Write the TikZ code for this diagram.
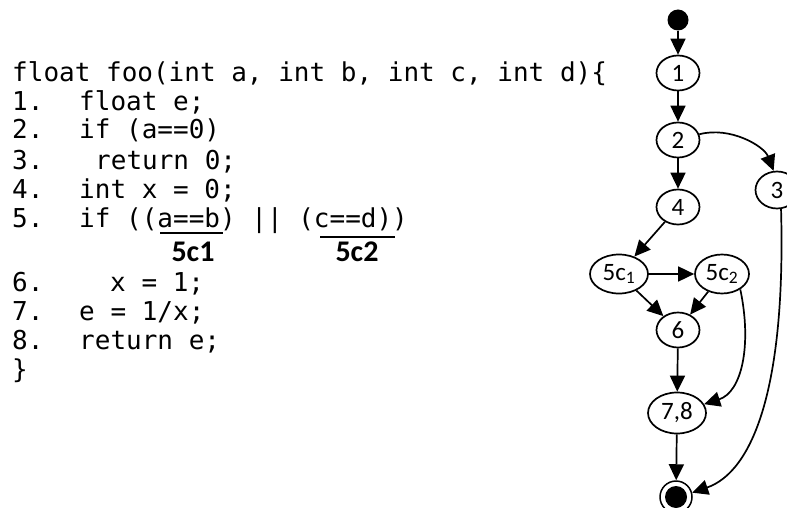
\documentclass[tikz,border=0pt]{standalone}
\usepackage{fontspec}
\setmainfont{Carlito}
\newfontfamily\codefont{DejaVu Sans Mono}
\usetikzlibrary{arrows.meta,shapes.geometric}
\begin{document}
\begin{tikzpicture}[x=1pt,y=-1pt,
  st/.style={ellipse,draw,line width=1.7pt,inner sep=0pt,minimum width=43pt,minimum height=35pt,font=\fontsize{25}{27}\selectfont},
  arr/.style={line width=1.7pt,-{Triangle[length=16pt,width=15pt]}},
  code/.style={anchor=base west,inner sep=0pt,font=\codefont\fontsize{26}{28}\selectfont},
  lbl/.style={anchor=base,inner sep=0pt,font=\bfseries\fontsize{30}{32}\selectfont},
  mark line/.style={line width=1.5pt}]
\clip (0,0) rectangle (787,508);
\fill[white] (0,0) rectangle (787,508);
% code
\node[code] (c0) at (12,82) {float foo(int a, int b, int c, int d)\{};
\node[code] (n1num) at (12,111) {1.};
\node[code] (n1code) at (79,111) {float e;};
\node[code] (n2num) at (12,139) {2.};
\node[code] (n2code) at (79,139) {if (a==0)};
\node[code] (n3num) at (12,169) {3.};
\node[code] (n3code) at (95,169) {return 0;};
\node[code] (n4num) at (12,198) {4.};
\node[code] (n4code) at (79,198) {int x = 0;};
\node[code] (n5num) at (12,227) {5.};
\node[code] (n5code) at (79,227) {if ((a==b) || (c==d))};
\draw[mark line] (160,233) -- (223,233);
\draw[mark line] (320,237) -- (395,237);
\node[lbl] (l5c1) at (193,261) {5c1};
\node[lbl] (l5c2) at (357,261) {5c2};
\node[code] (n6num) at (12,291) {6.};
\node[code] (n6code) at (110,291) {x = 1;};
\node[code] (n7num) at (12,320) {7.};
\node[code] (n7code) at (79,320) {e = 1/x;};
\node[code] (n8num) at (12,349) {8.};
\node[code] (n8code) at (79,349) {return e;};
\node[code] (cend) at (12,378) {\}};
% graph
\node[circle,fill=black,inner sep=0pt,minimum size=21pt] (start) at (678,20) {};
\node[st] (g1) at (678,73) {1};
\node[st] (g2) at (678,140) {2};
\node[st,minimum width=43pt,minimum height=37pt] (g3) at (777,190) {3};
\node[st] (g4) at (678,207) {4};
\node[st,minimum width=58pt,minimum height=39pt] (g5a) at (619,274) {5c\textsubscript{1}};
\node[st,minimum width=54pt,minimum height=39pt] (g5b) at (722,274) {5c\textsubscript{2}};
\node[st] (g6) at (678,330) {6};
\node[st,minimum width=58pt,minimum height=41pt] (g78) at (677,413) {7,8};
\node[circle,draw,line width=1.5pt,inner sep=0pt,minimum size=32pt] (fin) at (676,497) {};
\node[circle,fill=black,inner sep=0pt,minimum size=22pt] (finin) at (676,497) {};
\draw[arr] (start) -- (g1);
\draw[arr] (g1) -- (g2);
\draw[arr] (g2) -- (g4);
\draw[arr] (g2.15) .. controls (730,126) and (764,146) .. (g3.100);
\draw[arr] (g4) -- (g5a);
\draw[arr] (g5a) -- (g5b);
\draw[arr] (g5a) -- (g6);
\draw[arr] (g5b) -- (g6);
\draw[arr] (g6) -- (g78);
\draw[arr] (g5b.-40) .. controls (752,345) and (742,392) .. (g78.18);
\draw[arr] (g78) -- (fin);
\draw[arr] (g3.-78) .. controls (786,390) and (752,472) .. (fin.15);
\end{tikzpicture}
\end{document}
